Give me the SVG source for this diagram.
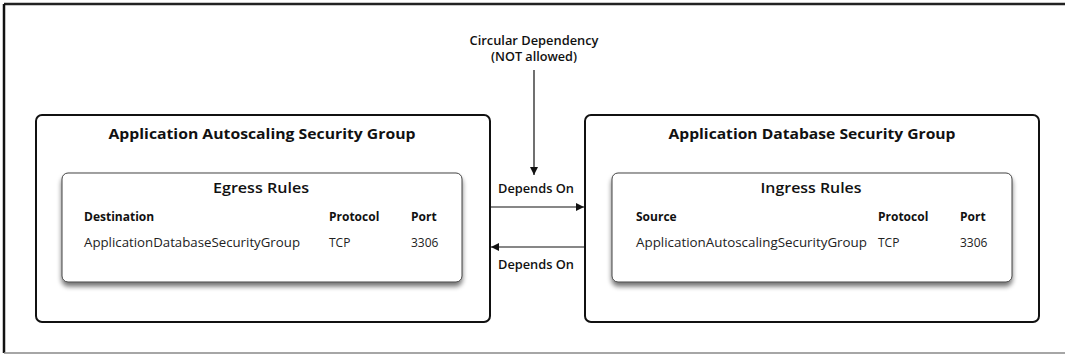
<svg xmlns="http://www.w3.org/2000/svg" width="1065" height="355" viewBox="0 0 1065 355">
<style>
text{font-family:"Open Sans","Liberation Sans",sans-serif;fill:#111}
.title{font-size:15px;font-weight:bold}
.sub{font-size:15px;font-weight:600}
.hdr{font-size:12px;font-weight:bold}
.cell{font-size:12px;fill:#222}
.lbl{font-size:12px;font-weight:600}
.outer{fill:#fff;stroke:#111;stroke-width:2}
.inner{fill:#fff;stroke:#444;stroke-width:1;filter:url(#sh)}
.conn{stroke:#111;stroke-width:1.2;fill:none}
</style>
<defs>
<filter id="sh" x="-10%" y="-10%" width="120%" height="130%">
<feGaussianBlur in="SourceAlpha" stdDeviation="2.5"/>
<feOffset dy="4" result="b"/>
<feComponentTransfer><feFuncA type="linear" slope="0.55"/></feComponentTransfer>
<feMerge><feMergeNode/><feMergeNode in="SourceGraphic"/></feMerge>
</filter>
<marker id="ah" viewBox="0 0 10 10" refX="10" refY="5" markerWidth="10" markerHeight="8" markerUnits="userSpaceOnUse" orient="auto">
<path d="M0,0 L10,5 L0,10 z" fill="#111"/>
</marker>
</defs>
<rect x="0" y="0" width="1065" height="355" fill="#fff"/>
<g id="frame">
<line x1="4" y1="4" x2="1065" y2="4" stroke="#222" stroke-width="2.5"/>
<line x1="4" y1="4" x2="4" y2="353" stroke="#111" stroke-width="2.5"/>
<line x1="4" y1="353" x2="1065" y2="353" stroke="#888" stroke-width="1.5"/>
</g>
<g id="autoscaling-sg">
<rect class="outer" x="36" y="115" width="454" height="207" rx="6"/>
<text class="title" x="262" y="139" text-anchor="middle" textLength="307" lengthAdjust="spacingAndGlyphs">Application Autoscaling Security Group</text>
<g id="egress-rules">
<rect class="inner" x="62" y="173" width="400" height="109" rx="6"/>
<text class="sub" x="261" y="193" text-anchor="middle" textLength="96" lengthAdjust="spacingAndGlyphs">Egress Rules</text>
<text class="hdr" x="84" y="221">Destination</text>
<text class="hdr" x="329" y="221">Protocol</text>
<text class="hdr" x="411" y="221">Port</text>
<text class="cell" x="84" y="247" textLength="216" lengthAdjust="spacingAndGlyphs">ApplicationDatabaseSecurityGroup</text>
<text class="cell" x="329" y="247">TCP</text>
<text class="cell" x="411" y="247">3306</text>
</g>
</g>
<g id="database-sg">
<rect class="outer" x="585" y="115" width="454" height="207" rx="6"/>
<text class="title" x="812" y="139" text-anchor="middle" textLength="287" lengthAdjust="spacingAndGlyphs">Application Database Security Group</text>
<g id="ingress-rules">
<rect class="inner" x="612" y="173" width="400" height="109" rx="6"/>
<text class="sub" x="811" y="193" text-anchor="middle" textLength="101" lengthAdjust="spacingAndGlyphs">Ingress Rules</text>
<text class="hdr" x="636" y="221">Source</text>
<text class="hdr" x="878" y="221">Protocol</text>
<text class="hdr" x="960" y="221">Port</text>
<text class="cell" x="636" y="247" textLength="231" lengthAdjust="spacingAndGlyphs">ApplicationAutoscalingSecurityGroup</text>
<text class="cell" x="878" y="247">TCP</text>
<text class="cell" x="960" y="247">3306</text>
</g>
</g>
<g id="connectors">
<line class="conn" x1="534" y1="70" x2="534" y2="175" marker-end="url(#ah)"/>
<line class="conn" x1="490" y1="207" x2="584" y2="207" marker-end="url(#ah)"/>
<line class="conn" x1="585" y1="247" x2="491" y2="247" marker-end="url(#ah)"/>
<text class="lbl" x="534" y="45" text-anchor="middle" textLength="129" lengthAdjust="spacingAndGlyphs">Circular Dependency</text>
<text class="lbl" x="534" y="61" text-anchor="middle" textLength="86" lengthAdjust="spacingAndGlyphs">(NOT allowed)</text>
<text class="lbl" x="536" y="193" text-anchor="middle" textLength="76" lengthAdjust="spacingAndGlyphs">Depends On</text>
<text class="lbl" x="536" y="269" text-anchor="middle" textLength="76" lengthAdjust="spacingAndGlyphs">Depends On</text>
</g>
</svg>
